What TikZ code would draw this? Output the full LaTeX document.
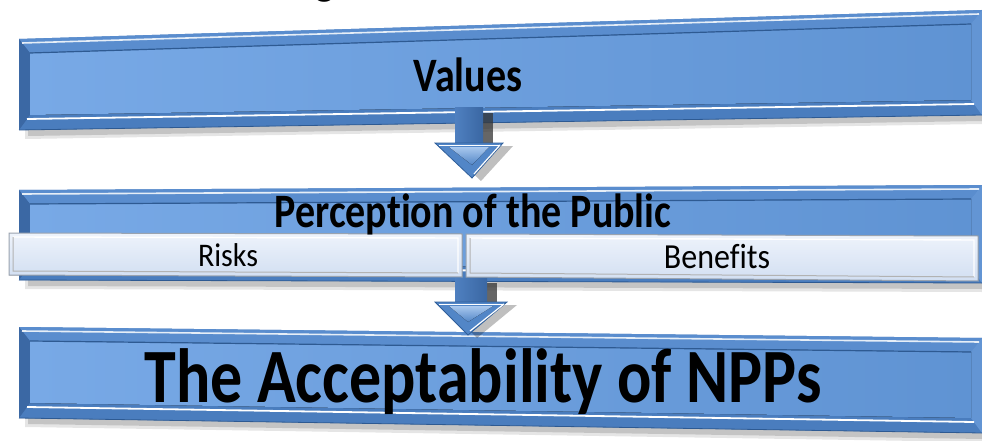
\documentclass[tikz,border=0pt]{standalone}
\usepackage{fontspec}
\setmainfont{Carlito}[Ligatures=NoCommon]
\usetikzlibrary{calc}
\definecolor{frameC}{HTML}{4A7EC0}
\definecolor{topB}{HTML}{5A8DCE}
\definecolor{botB}{HTML}{4A7DBE}
\definecolor{leftB}{HTML}{3B68A4}
\definecolor{rightB}{HTML}{6395D4}
\definecolor{darkE}{HTML}{2E5A92}
\definecolor{pnlL}{HTML}{78A9E6}
\definecolor{pnlR}{HTML}{5F93D3}
\definecolor{lbT}{HTML}{EEF3FB}
\definecolor{lbB}{HTML}{D2DFF2}
\definecolor{lbD}{HTML}{9AA3AF}
\definecolor{shaftL}{HTML}{4F80C0}
\definecolor{shaftM}{HTML}{8DB7EA}
\definecolor{shaftR}{HTML}{3A67A3}
\definecolor{headC}{HTML}{5286C7}
\definecolor{headD}{HTML}{2F5E99}
\definecolor{headL}{HTML}{A9C8EE}
\newcommand\bevbox[6]{%
\begin{scope}
 \def\xl{#1}\def\ytl{#2}\def\ybl{#3}\def\xr{#4}\def\ytr{#5}\def\ybr{#6}
 \fill[black,opacity=0.10] (\xl+6,\ybl-8) -- (\xr,\ybr-8) -- (\xr,\ybr+9) -- (\xl+6,\ybl+9) -- cycle;
 \fill[black,opacity=0.14] (\xl+9,\ybl-6) -- (\xr,\ybr-6) -- (\xr,\ybr+6) -- (\xl+9,\ybl+6) -- cycle;
 \fill[frameC] (\xl,\ytl) -- (\xr,\ytr) -- (\xr,\ybr) -- (\xl,\ybl) -- cycle;
 \fill[topB] (\xl,\ytl) -- (\xr,\ytr) -- (\xr-11,\ytr+14) -- (\xl+11,\ytl+14) -- cycle;
 \fill[botB] (\xl,\ybl) -- (\xr,\ybr) -- (\xr-11,\ybr-15) -- (\xl+11,\ybl-15) -- cycle;
 \fill[leftB] (\xl,\ytl) -- (\xl+11,\ytl+14) -- (\xl+11,\ybl-15) -- (\xl,\ybl) -- cycle;
 \fill[rightB] (\xr,\ytr) -- (\xr-11,\ytr+14) -- (\xr-11,\ybr-15) -- (\xr,\ybr) -- cycle;
 \fill[left color=pnlL,right color=pnlR] (\xl+11,\ytl+14) -- (\xr-11,\ytr+14) -- (\xr-11,\ybr-15) -- (\xl+11,\ybl-15) -- cycle;
 \draw[white,line width=1.6pt,opacity=.85] (\xl+3,\ytl+4) -- (\xr-3,\ytr+4);
 \draw[white,line width=1.8pt] (\xl+8,\ybl-11) -- (\xr-8,\ybr-11);
 \draw[darkE,line width=1.2pt] (\xl+11,\ytl+14) -- (\xr-11,\ytr+14);
 \draw[darkE,line width=.8pt] (\xl,\ybl) -- (\xr,\ybr);
\end{scope}}
% #1 shaft centre x, #2 shaft top, #3 head y, #4 tip y, #5 half shaft, #6 half head, #7 tip x
\newcommand\blockarrow[7]{%
\begin{scope}
 \fill[black,opacity=0.25] (#1-#6+9,#3+3) -- (#1+#6+10,#3+3) -- (#7+9,#4+3) -- cycle;
 \fill[black!80,opacity=0.75] (#1+#5,#2+5) -- (#1+#5+10,#2+5) -- (#1+#5+10,#3) -- (#1+#5,#3) -- cycle;
 \fill[left color=shaftL,middle color=shaftM,right color=shaftR] (#1-#5,#2) rectangle (#1+#5,#3+2);
 \fill[headC,draw=headD,line width=.8pt] (#1-#6,#3) -- (#1+#6,#3) -- (#7,#4) -- cycle;
 \fill[top color=headL,bottom color=headC] (#1-#6+14,#3+4) -- (#1+#6-14,#3+4) -- (#7,#4-13) -- cycle;
 \draw[white,line width=1.2pt] (#1+#6-3,#3+2) -- (#7+2,#4-4);
 \draw[white,line width=.8pt] (#1-#6+4,#3+2) -- (#1+#6-4,#3+2);
\end{scope}}
\newcommand\lightbar[8]{%
 \fill[top color=lbT,bottom color=lbB,draw=lbD,line width=1pt] (#1,#2) -- (#3,#4) -- (#5,#6) -- (#7,#8) -- cycle;
 \draw[white,line width=1.4pt] (#1+4,#2+4) -- (#3-4,#4+4) -- (#5-4,#6-4);
 \draw[black!30,line width=1pt] (#7+4,#2+4) -- (#7+4,#8-4) -- (#5-4,#6-4);}
\newcommand\tallA[1]{\scalebox{1}[1.2]{#1}}
\newcommand\tallB[1]{\scalebox{1}[1.1]{#1}}
\tikzset{boxtext/.style={font=\bfseries,text=black,inner sep=0pt},
 subtext/.style={text=black,inner sep=0pt}}
\begin{document}
\begin{tikzpicture}[x=1pt,y=-1pt]
\useasboundingbox (0,0) rectangle (982,441);
\clip (0,0) rectangle (982,441);
\fill[white] (0,0) rectangle (982,441);
\node[boxtext,font=\bfseries\fontsize{40}{40}\selectfont,anchor=base] (gcut) at (325,-4) {g};
% boxes
\bevbox{19}{39}{130}{982}{10}{115}
\bevbox{19}{190}{280}{982}{185}{283}
\lightbar{9}{233}{462}{234}{462}{277}{9}{275}
\lightbar{466}{234}{978}{236}{978}{281}{466}{277}
\bevbox{19}{327}{418}{982}{338}{433}
% arrows
\coordinate (a1) at (469,108);
\coordinate (a2) at (471,278);
\blockarrow{469}{108}{143}{178}{14}{34}{472}
\blockarrow{471}{278}{302}{335}{16}{36}{468}
% texts
\node[boxtext,font=\bfseries\fontsize{40}{40}\selectfont] (values) at (468,75) {\tallA{Values}};
\node[boxtext,font=\bfseries\fontsize{40}{40}\selectfont] (perc) at (473,214) {\tallA{Perception of the Public}};
\node[subtext,font=\fontsize{30}{30}\selectfont] (risks) at (228,255) {\tallB{Risks}};
\node[subtext,font=\fontsize{32}{32}\selectfont] (benefits) at (717,257) {\tallB{Benefits}};
\node[boxtext,font=\bfseries\fontsize{64}{64}\selectfont] (accept) at (483,382) {\tallA{The Acceptability of NPPs}};
\end{tikzpicture}
\end{document}
